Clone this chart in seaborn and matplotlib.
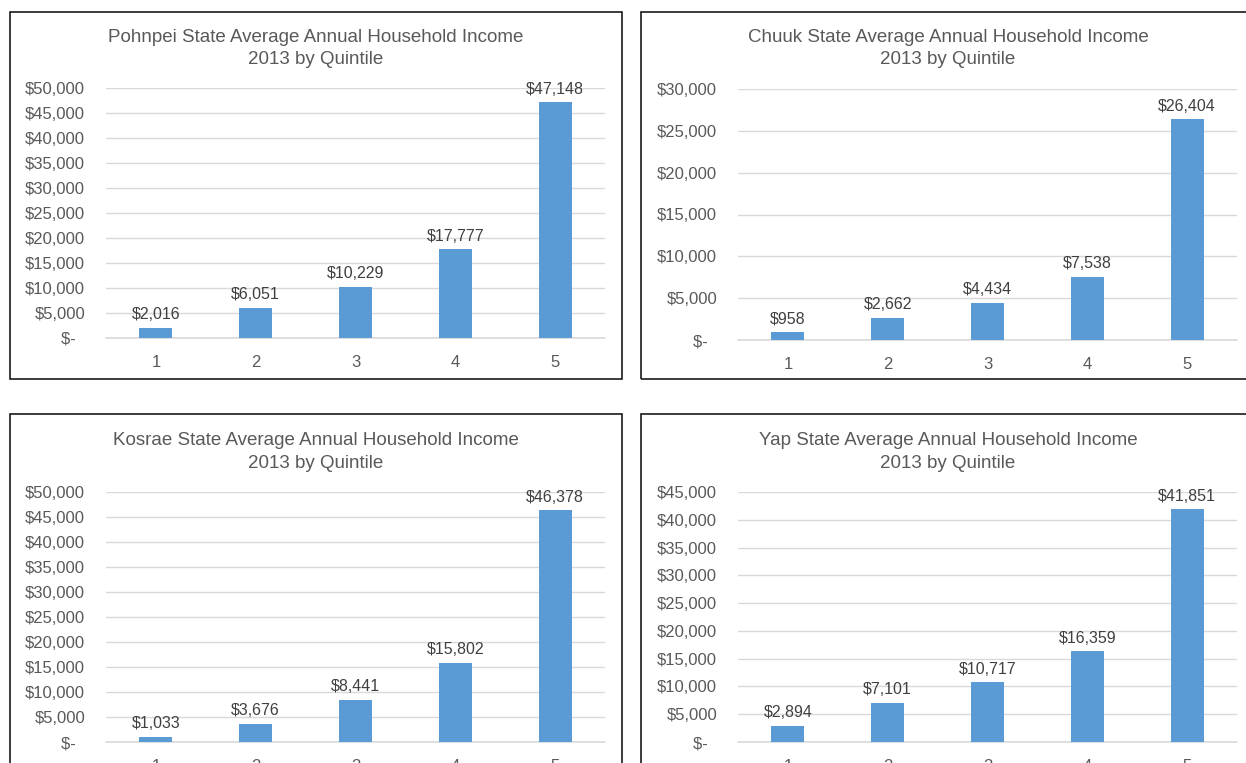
import matplotlib
matplotlib.use("Agg")
import matplotlib.pyplot as plt
import seaborn as sns
import pandas as pd
from matplotlib.patches import Rectangle
from matplotlib.ticker import FuncFormatter, MultipleLocator

quintiles = ["1", "2", "3", "4", "5"]
pohnpei = [2016, 6051, 10229, 17777, 47148]
chuuk = [958, 2662, 4434, 7538, 26404]
kosrae = [1033, 3676, 8441, 15802, 46378]
yap = [2894, 7101, 10717, 16359, 41851]

titles = [
    "Pohnpei State Average Annual Household Income\n2013 by Quintile",
    "Chuuk State Average Annual Household Income\n2013 by Quintile",
    "Kosrae State Average Annual Household Income\n2013 by Quintile",
    "Yap State Average Annual Household Income\n2013 by Quintile",
]
series = [pohnpei, chuuk, kosrae, yap]
ymax = [50000, 30000, 50000, 45000]
ystep = [5000, 5000, 5000, 5000]

sns.set_theme(style="white")
plt.rcParams["font.family"] = ["Liberation Sans", "DejaVu Sans"]

W, H = 1246, 763
fig = plt.figure(figsize=(W / 100, H / 100), dpi=100)

BAR = "#5b9bd5"
TXT = "#595959"
GRID = "#d9d9d9"

# pixel layout: (axes left, top, right, bottom), panel box (x0, y0, x1, y1), title center x, title y
layouts = [
    ((106, 88, 605, 338), (10, 12, 622, 379), 316, 48.5),
    ((738, 89, 1237, 340), (641, 12, 1253, 379), 948, 48.5),
    ((106, 492, 605, 742), (10, 414, 622, 781), 316, 452),
    ((738, 492, 1237, 742), (641, 414, 1253, 781), 948, 452),
]


def fmt(v, pos):
    if v == 0:
        return "$-  "
    return "${:,.0f}".format(v)


for vals, title, ym, st, (arect, box, tx, ty) in zip(series, titles, ymax, ystep, layouts):
    l, t, r, b = arect
    ax = fig.add_axes([l / W, (H - b) / H, (r - l) / W, (b - t) / H])
    df = pd.DataFrame({"q": quintiles, "v": vals})
    sns.barplot(data=df, x="q", y="v", color=BAR, width=0.33, ax=ax,
                saturation=1, linewidth=0, zorder=3)
    ax.set_xlim(-0.5, 4.5)
    ax.set_ylim(0, ym)
    ax.yaxis.set_major_locator(MultipleLocator(st))
    ax.yaxis.set_major_formatter(FuncFormatter(fmt))
    ax.grid(axis="y", color=GRID, linewidth=1, zorder=0)
    ax.axhline(0, color=GRID, linewidth=1.2, clip_on=False, zorder=2)
    ax.set_axisbelow(True)
    for s in ax.spines.values():
        s.set_visible(False)
    ax.set_xlabel("")
    ax.set_ylabel("")
    ax.tick_params(axis="both", length=0, labelsize=12, labelcolor=TXT)
    ax.tick_params(axis="x", pad=12)
    ax.tick_params(axis="y", pad=15)
    for i, v in enumerate(vals):
        ax.annotate("${:,.0f}".format(v), (i, v), xytext=(0, 4),
                    textcoords="offset points", ha="center", va="bottom",
                    fontsize=11.5, color="#404040")
    x0, y0, x1, y1 = box
    fig.patches.append(Rectangle((x0 / W, (H - y1) / H), (x1 - x0) / W, (y1 - y0) / H,
                                 transform=fig.transFigure, fill=False,
                                 edgecolor="#1a1a1a", linewidth=1.2))
    fig.text(tx / W, (H - ty) / H, title, ha="center", va="center",
             fontsize=13.5, color=TXT, linespacing=1.4)

fig.savefig("out.png", dpi=100, facecolor="white")
